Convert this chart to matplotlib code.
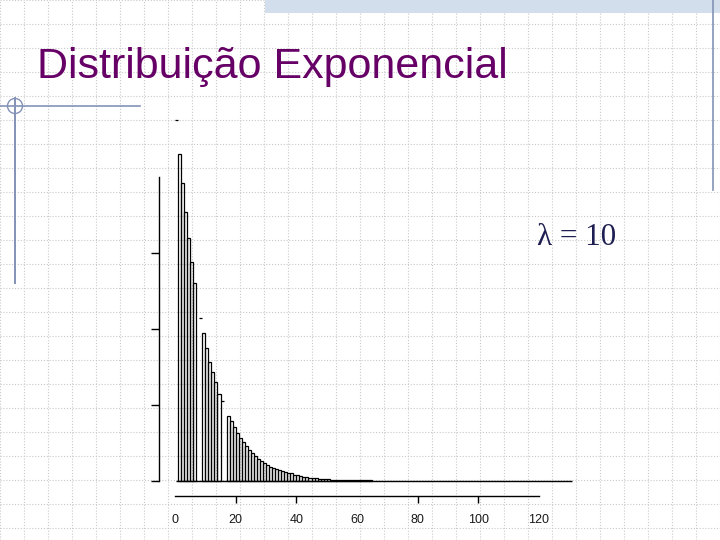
#!/usr/bin/env python3
import matplotlib

matplotlib.use("Agg")
import matplotlib.pyplot as plt
from matplotlib.patches import Circle, Rectangle

# histogram of an exponential sample (lambda = 10), bins of width 1
BIN_WIDTH = 1
DENSITY = [
    0.0950, 0.0861, 0.0784, 0.0708, 0.0639, 0.0576, 0.0521, 0.0474, 0.0429, 0.0389,
    0.0350, 0.0313, 0.0287, 0.0261, 0.0229, 0.0211, 0.0189, 0.0171, 0.0158, 0.0142,
    0.0126, 0.0113, 0.0103, 0.0092, 0.0082, 0.0074, 0.0066, 0.0058, 0.0053, 0.0047,
    0.0042, 0.0037, 0.0034, 0.0032, 0.0029, 0.0026, 0.0024, 0.0021, 0.0020, 0.0017,
    0.0016, 0.0014, 0.0011, 0.0010, 0.0009, 0.0008, 0.0007, 0.0005, 0.0005, 0.0004,
    0.0004, 0.0003, 0.0003, 0.0003, 0.0003, 0.0003, 0.0003, 0.0003, 0.0003, 0.0003,
    0.0003, 0.0003, 0.0003, 0.0002, 0.0002,
]
X_TICKS = [0, 20, 40, 60, 80, 100, 120]
X_TICK_LABELS = ["0", "20", "40", "60", "80", "100", "120"]
Y_TICKS = [0.0, 0.02, 0.04, 0.06]
Y_AXIS_TOP = 0.08
TITLE = "Distribuição Exponencial"
LAMBDA_TEXT = "λ = 10"

# the scanned figure lost some bar edges: these bins show only their top, or nothing
TOP_ONLY_BINS = {0, 8, 15}
HIDDEN_BINS = {7, 16}

PURPLE = "#660066"
DECOR = "#8392b6"


def draw_slide(bg: plt.Axes) -> None:
    bg.set_xlim(0, 720)
    bg.set_ylim(540, 0)
    bg.axis("off")
    for x in range(0, 721, 24):
        bg.axvline(x, color="#c9c9c9", linewidth=0.8, linestyle=(0, (1, 1.6)), zorder=0)
    for y in range(0, 541, 24):
        bg.axhline(y, color="#c9c9c9", linewidth=0.8, linestyle=(0, (1, 1.6)), zorder=0)
    bg.add_patch(Rectangle((265, 0), 455, 13, facecolor="#d3deec", edgecolor="none", zorder=1))
    bg.plot([713, 713], [0, 190], color=DECOR, linewidth=1.2, zorder=2)
    bg.plot([0, 140], [106, 106], color=DECOR, linewidth=1.2, zorder=2)
    bg.plot([15, 15], [98, 283], color=DECOR, linewidth=1.4, zorder=2)
    bg.add_patch(Circle((15, 106), 7.5, fill=False, edgecolor=DECOR, linewidth=1.0, zorder=2))
    bg.text(37, 78, TITLE, fontsize=31, color=PURPLE, va="baseline", ha="left",
            family=["Liberation Sans", "DejaVu Sans"])
    bg.text(537, 245, LAMBDA_TEXT, fontsize=22.4, color="#1e1e52", va="baseline", ha="left",
            family=["Liberation Serif", "DejaVu Serif"])


def draw_histogram(ax: plt.Axes) -> None:
    ax.patch.set_alpha(0)
    ax.set_xlim(-11.54, 136.8)
    ax.set_ylim(-0.0129, 0.1003)

    lefts = [k * BIN_WIDTH for k in range(len(DENSITY))]
    drawn = [k for k in range(len(DENSITY)) if k not in TOP_ONLY_BINS | HIDDEN_BINS]
    ax.bar([lefts[k] for k in drawn], [DENSITY[k] for k in drawn], width=BIN_WIDTH,
           align="edge", fill=False, edgecolor="black", linewidth=0.9)
    tops = sorted(TOP_ONLY_BINS)
    ax.hlines([DENSITY[k] for k in tops], [lefts[k] for k in tops],
              [lefts[k] + BIN_WIDTH for k in tops], color="black", linewidth=0.9)
    ax.hlines(0, 0.3, 131, color="black", linewidth=1.0)

    for side in ("top", "right"):
        ax.spines[side].set_visible(False)
    ax.spines["left"].set_position(("data", -5.3))
    ax.spines["left"].set_bounds(0, Y_AXIS_TOP)
    ax.spines["bottom"].set_position(("data", -0.0040))
    ax.spines["bottom"].set_bounds(X_TICKS[0], X_TICKS[-1])
    for spine in ("left", "bottom"):
        ax.spines[spine].set_linewidth(1.0)

    ax.set_yticks(Y_TICKS)
    ax.set_yticklabels([])
    ax.tick_params(axis="y", length=6, width=1.0)
    ax.set_xticks(X_TICKS)
    ax.set_xticklabels(X_TICK_LABELS, family=["Liberation Sans", "DejaVu Sans"])
    ax.tick_params(axis="x", length=5, width=1.0, pad=8, labelsize=9, labelcolor="#1a1a1a")
    for tick, value in zip(ax.xaxis.get_major_ticks(), X_TICKS):
        if value in (0, 60, 120):
            tick.tick1line.set_visible(False)


def main() -> None:
    fig = plt.figure(figsize=(7.2, 5.4), dpi=100)
    fig.patch.set_facecolor("white")
    bg = fig.add_axes([0, 0, 1, 1], zorder=0)
    draw_slide(bg)
    ax = fig.add_axes([140 / 720, 10 / 540, 450 / 720, 430 / 540], zorder=1)
    draw_histogram(ax)
    fig.savefig("out.png", dpi=100)
    plt.close(fig)


if __name__ == "__main__":
    main()
